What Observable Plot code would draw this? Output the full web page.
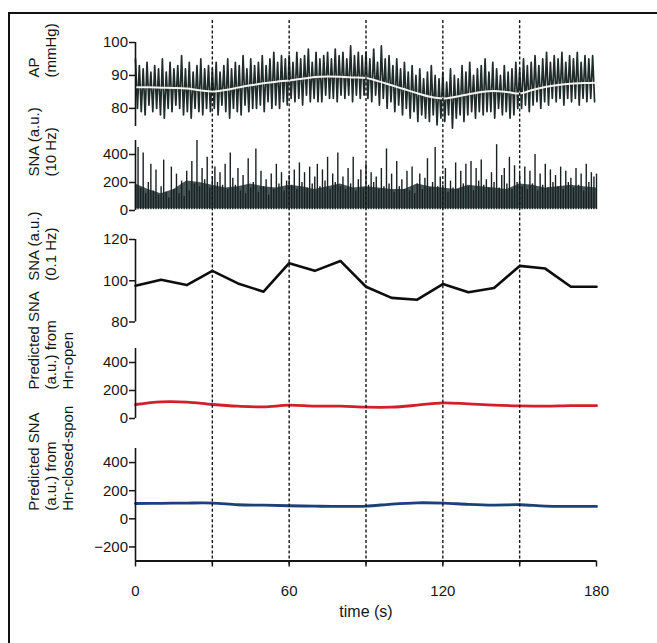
<!DOCTYPE html>
<html><head><meta charset="utf-8">
<script src="https://cdn.jsdelivr.net/npm/d3@7"></script>
<script src="https://cdn.jsdelivr.net/npm/@observablehq/plot@0.6"></script>
<style>
body{margin:0;background:#fff;overflow:hidden}
#wrap{position:relative;width:657px;height:643px;overflow:hidden;background:#fff}
#frame{position:absolute;left:8px;top:12px;width:700px;height:700px;border-top:2px solid #111;border-left:2px solid #111}
#wrap svg{position:absolute;left:0}
</style></head><body><div id="wrap"><div id="frame"></div></div>
<script>
// ---------- data ----------
const dashTimes = [30, 60, 90, 120, 150];
const xTicks = [0, 30, 60, 90, 120, 150, 180];
// AP beats: peak and trough per beat (one beat every 1.5 s)
const apHi = [
 95,93,92,94,91,93,92,95,91,94,92,93,96,92,94,91,93,95,92,93,
 92,94,91,93,95,92,94,93,96,92,95,93,94,96,93,95,97,94,96,95,
 96,94,97,95,96,98,94,97,95,96,97,95,98,96,97,95,99,96,97,96,
 97,95,98,94,99,95,96,93,95,92,94,91,93,90,92,89,91,93,90,89,
 91,88,92,90,89,93,91,94,90,92,93,95,91,94,92,90,93,91,92,94,
 92,95,93,94,96,93,95,97,94,96,95,97,94,96,95,97,94,96,95,96];
const apLo = [
 80,79,78,81,79,80,78,77,80,79,81,80,78,79,77,80,79,78,80,79,
 80,78,81,79,77,80,79,78,81,79,80,80,81,79,82,80,81,80,82,81,
 83,82,83,81,84,82,83,82,82,84,83,83,82,84,83,84,82,84,83,84,
 83,82,84,81,83,80,82,79,81,78,80,77,79,76,78,77,76,78,75,77,
 76,78,74,77,78,76,78,79,77,79,78,79,79,77,80,78,79,77,78,80,
 80,81,79,81,82,80,82,81,83,82,83,81,83,82,83,81,83,82,83,82];
// AP slow mean (every 5 s)
const apMean = [86.4,86.4,86.3,86.2,86.0,85.5,85.1,85.6,86.3,87.0,87.6,88.1,88.5,89.0,89.5,89.7,89.6,89.4,89.2,88.2,87.0,85.8,84.6,83.5,83.0,83.5,84.3,85.0,85.3,85.0,84.5,85.6,86.5,87.1,87.5,87.7,87.8];
// SNA 10 Hz: spike peaks (every 1 s) and dense band envelope (every 5 s)
const snaSpikes = [
 180,450,160,410,120,200,330,140,290,110,170,360,130,90,310,150,260,120,210,100,
 280,140,350,190,500,170,300,220,380,160,240,310,200,270,180,330,150,410,230,180,
 300,140,250,120,370,160,200,440,130,280,170,220,110,260,150,330,190,270,140,210,
 250,180,290,150,340,200,270,160,310,190,240,330,170,290,210,380,150,260,200,410,
 170,240,150,300,190,380,140,220,290,160,330,180,270,200,240,150,300,170,440,190,
 260,130,350,170,220,150,280,140,310,120,190,260,150,230,370,160,200,450,170,240,
 180,300,130,210,160,340,150,280,190,330,170,350,140,300,210,360,180,220,160,270,
 200,470,160,250,300,190,380,150,320,200,260,170,310,150,280,190,400,140,260,180,
 330,160,290,200,250,170,310,150,280,200,230,160,300,180,260,140,330,200,270,240,
 260];
const snaBand = [190,150,120,150,210,200,180,160,170,190,170,160,180,170,150,170,190,160,170,160,150,150,190,170,160,150,180,170,160,150,190,180,160,170,180,170,160];
// slow series (every 10 s)
const tSlow = [0,10,20,30,40,50,60,70,80,90,100,110,120,130,140,150,160,170,180];
const sna01 = [97.6,100.5,97.9,104.8,98.7,94.7,108.5,104.8,109.6,97.1,91.7,90.8,98.4,94.4,96.5,107.2,105.9,97.1,97.1];
const predOpen = [100,119,117,100,88,83,95,88,88,81,81,95,112,104,95,90,88,92,92];
const predClosed = [109,110,112,112,100,97,93,90,88,90,105,114,112,103,98,100,90,88,88];
// axis ticks / labels
const apTicks = [80, 90, 100];
const snaTicks = [0, 200, 400];
const sna01Ticks = [80, 100, 120];
const predTicks = [0, 200, 400];
const pred2Ticks = [-200, 0, 200, 400];
const labels = ["AP\n(mmHg)", "SNA (a.u.)\n(10 Hz)", "SNA (a.u.)\n(0.1 Hz)", "Predicted SNA\n(a.u.) from\nHn-open", "Predicted SNA\n(a.u.) from\nHn-closed-spon"];

// ---------- derived tables ----------
const apPts = [];
apHi.forEach((v, i) => { apPts.push({t: i * 1.5, v}); apPts.push({t: i * 1.5 + 0.75, v: apLo[i]}); });
const apMeanPts = apMean.map((v, i) => ({t: i * 5, v}));
const spikePts = snaSpikes.map((v, i) => ({t: i, v}));
const bandPts = snaBand.map((v, i) => ({t: i * 5, v}));
const slow = (arr) => arr.map((v, i) => ({t: tSlow[i], v}));

// ---------- layout ----------
const FONT = '"Liberation Sans", Arial, Helvetica, sans-serif';
const W = 657, ML = 135, MR = 61, INK = "#151515";
const wrap = document.getElementById("wrap");

function panel({top, bottom, domain, ticks, marks, label, dx, dy, xAxis = false}) {
  const mt = 14, mb = xAxis ? 643 - bottom : 8;
  const extra = [];
  if (xAxis) {
    extra.push(Plot.ruleY([domain[0]], {stroke: INK, strokeWidth: 2}));
    extra.push(Plot.axisX({ticks: xTicks, tickSize: 6, tickPadding: 18, strokeWidth: 1.5, label: null,
      tickFormat: d => d % 60 === 0 ? String(d) : "", fontSize: 15}));
    extra.push(Plot.text(["time (s)"], {text: d => d, frameAnchor: "bottom", dy: 56, fontSize: 16, fill: INK}));
  }
  const svg = Plot.plot({
    width: W, height: (bottom - top) + mt + mb,
    marginLeft: ML, marginRight: MR, marginTop: mt, marginBottom: mb,
    style: {background: "transparent", fontFamily: FONT, fontSize: "15px", color: INK, overflow: "visible"},
    x: {domain: [0, 180], axis: xAxis ? undefined : null},
    y: {domain},
    marks: [
      ...marks,
      Plot.ruleX([0], {stroke: INK, strokeWidth: 1.6}),
      Plot.axisY({ticks, tickSize: 6, tickPadding: 1.5, strokeWidth: 1.5, label: null, fontSize: 15}),
      Plot.text([label], {text: d => d, frameAnchor: "left", rotate: -90, dx, dy, lineHeight: 1.13, fontSize: 15, fill: INK}),
      ...extra
    ]
  });
  svg.style.top = (top - mt) + "px";
  wrap.appendChild(svg);
}

// AP
panel({top: 42, bottom: 126, domain: [74.5, 100], ticks: apTicks, label: labels[0], dx: -93.5, dy: -7,
  marks: [
    Plot.line(apPts, {x: "t", y: "v", stroke: "#1f2c29", strokeWidth: 1.7}),
    Plot.line(apMeanPts, {x: "t", y: "v", stroke: "#f4f4f0", strokeWidth: 2, curve: "catmull-rom"})
  ]});
// SNA 10 Hz
panel({top: 140, bottom: 210, domain: [0, 500], ticks: snaTicks, label: labels[1], dx: -93.5, dy: 1,
  marks: [
    Plot.areaY(bandPts, {x: "t", y1: 12, y2: "v", fill: "#36464a", fillOpacity: 0.92}),
    Plot.ruleX(spikePts, {x: "t", y1: 6, y2: "v", stroke: "#182020", strokeWidth: 1.4})
  ]});
// SNA 0.1 Hz
panel({top: 239, bottom: 321.5, domain: [80, 120], ticks: sna01Ticks, label: labels[2], dx: -93.5, dy: 0,
  marks: [Plot.line(slow(sna01), {x: "t", y: "v", stroke: "#0d0d0d", strokeWidth: 2.6})]});
// Predicted from Hn-open
panel({top: 348, bottom: 418, domain: [0, 500], ticks: predTicks, label: labels[3], dx: -85, dy: 6,
  marks: [Plot.line(slow(predOpen), {x: "t", y: "v", stroke: "#d21f2c", strokeWidth: 2.8, curve: "catmull-rom"})]});
// Predicted from Hn-closed-spon
panel({top: 447.5, bottom: 560, domain: [-300, 500], ticks: pred2Ticks, label: labels[4], dx: -85, dy: 6, xAxis: true,
  marks: [Plot.line(slow(predClosed), {x: "t", y: "v", stroke: "#1d3f7a", strokeWidth: 2.8, curve: "catmull-rom"})]});

// dashed vertical guides across all panels
const ov = Plot.plot({
  width: W, height: 643, marginLeft: ML, marginRight: MR, marginTop: 20, marginBottom: 643 - 566,
  style: {background: "transparent", overflow: "visible"},
  x: {domain: [0, 180], axis: null},
  marks: [Plot.ruleX(dashTimes, {stroke: INK, strokeWidth: 1.4, strokeDasharray: "3,2.2"})]
});
ov.style.top = "0px";
wrap.appendChild(ov);
</script></body></html>
